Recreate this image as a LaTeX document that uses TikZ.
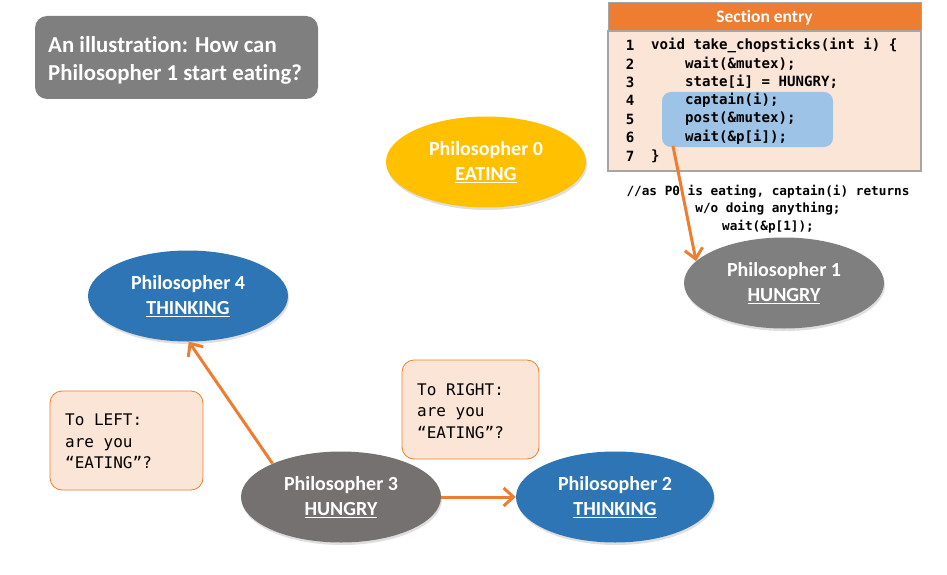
\documentclass[tikz,border=0pt]{standalone}
\usepackage{fontspec}
\setmainfont{Carlito}[Ligatures=NoCommon]
\setmonofont{DejaVu Sans Mono}
\usetikzlibrary{shapes.geometric,arrows.meta,shadows}
\definecolor{orng}{HTML}{ED7D31}
\definecolor{peach}{HTML}{FBE5D6}
\definecolor{hlblue}{HTML}{9DC3E6}
\definecolor{gry}{HTML}{7F7F7F}
\definecolor{dgry}{HTML}{767171}
\definecolor{pblue}{HTML}{2E75B6}
\definecolor{yel}{HTML}{FFC000}
\definecolor{bgry}{HTML}{A5A5A5}
\tikzset{
  phil/.style={ellipse, inner sep=0pt, minimum width=200pt, minimum height=91pt,
    text=white, font=\fontsize{20}{24.5}\selectfont\bfseries, align=center,
    drop shadow={opacity=0.25, shadow xshift=1pt, shadow yshift=-2.5pt}},
  codeline/.style={anchor=west, inner sep=0pt, font=\fontsize{14.1}{16}\selectfont\ttfamily\bfseries},
  lnum/.style={anchor=center, inner sep=0pt, font=\fontsize{14.1}{16}\selectfont\ttfamily\bfseries},
  callout/.style={draw=orng, line width=0.8pt, fill=peach, rounded corners=12pt},
  calltext/.style={anchor=north west, inner sep=0pt, align=left,
    font=\fontsize{16}{21.5}\selectfont\ttfamily},
  arr/.style={draw=orng, line width=3pt, -{Straight Barb[length=10pt,width=18pt,line width=3pt]}},
}
\begin{document}
\begin{tikzpicture}[x=1pt,y=-1pt]
\useasboundingbox (0,0) rectangle (947,575);
% title
\node[fill=gry, rounded corners=12pt, minimum width=283pt, minimum height=83pt, inner sep=0pt] (titlebox) at (176.5,57.5) {};
\node[anchor=west, inner sep=0pt, text=white, align=left, font=\fontsize{22.8}{28}\selectfont\bfseries] (titletext) at (48,60) {An illustration: How can\\Philosopher 1 start eating?};
% section entry
\node[fill=orng, draw=bgry, line width=1pt, minimum width=313pt, minimum height=28pt, inner sep=0pt] (sechead) at (764.5,17) {};
\node[text=white, font=\fontsize{17.5}{20}\selectfont\bfseries, inner sep=0pt] (sectitle) at (764.5,18) {Section entry};
\node[fill=peach, draw=bgry, line width=2pt, minimum width=313pt, minimum height=140pt, inner sep=0pt] (secbody) at (764.5,101) {};
\node[fill=hlblue, rounded corners=9pt, minimum width=171pt, minimum height=55pt, inner sep=0pt] (hl) at (747.5,119.5) {};
\node[lnum] (n1) at (630,45) {1};
\node[lnum] (n2) at (630,64) {2};
\node[lnum] (n3) at (630,82) {3};
\node[lnum] (n4) at (630,100) {4};
\node[lnum] (n5) at (630,119) {5};
\node[lnum] (n6) at (630,137) {6};
\node[lnum] (n7) at (630,156) {7};
\node[codeline] (c1) at (651,45) {void take\_chopsticks(int i) \{};
\node[codeline] (c2) at (685,64) {wait(\&mutex);};
\node[codeline] (c3) at (685,82) {state[i] = HUNGRY;};
\node[codeline] (c4) at (685,100) {captain(i);};
\node[codeline] (c5) at (685,119) {post(\&mutex);};
\node[codeline] (c6) at (685,137) {wait(\&p[i]);};
\node[codeline] (c7) at (651,156) {\}};
% comment
\node[inner sep=0pt, align=center, font=\fontsize{12.7}{17.5}\selectfont\ttfamily\bfseries] (comment) at (768,209) {//as P0 is eating, captain(i) returns\\w/o doing anything;\\wait(\&p[1]);};
% philosophers
\node[phil, fill=yel] (p0) at (486,162) {Philosopher 0\\\underline{EATING}};
\node[phil, fill=gry] (p1) at (784,283) {Philosopher 1\\\underline{HUNGRY}};
\node[phil, fill=pblue] (p4) at (188,296) {Philosopher 4\\\underline{THINKING}};
\node[phil, fill=dgry] (p3) at (341,497) {Philosopher 3\\\underline{HUNGRY}};
\node[phil, fill=pblue, minimum width=198pt] (p2) at (615,497) {Philosopher 2\\\underline{THINKING}};
% callouts
\node[callout, minimum width=153pt, minimum height=99pt, inner sep=0pt] (lbox) at (126.5,440.5) {};
\node[calltext] (ltext) at (65,414) {To LEFT:\\are you\\“EATING”?};
\node[callout, minimum width=137pt, minimum height=99pt, inner sep=0pt] (rbox) at (470.5,409.5) {};
\node[calltext] (rtext) at (417,383) {To RIGHT:\\are you\\“EATING”?};
% arrows
\coordinate (hlstart) at (673,146);
\draw[arr] (hlstart) -- (p1.166);
\draw[arr] (p3.154) -- (p4.271);
\draw[arr] (p3.east) -- (p2.west);
\end{tikzpicture}
\end{document}
